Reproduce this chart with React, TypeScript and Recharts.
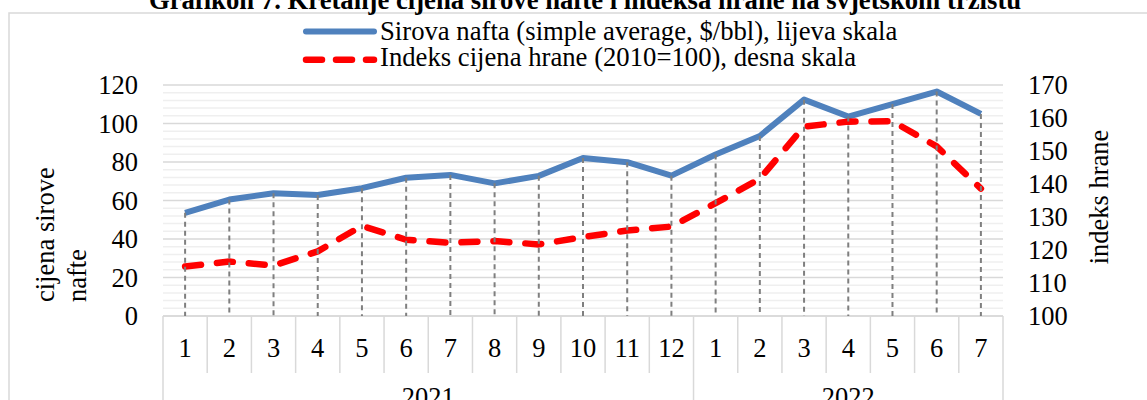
import React from 'react';
import { ComposedChart, Line, XAxis, YAxis, CartesianGrid } from 'recharts';

const months = ['1', '2', '3', '4', '5', '6', '7', '8', '9', '10', '11', '12', '1', '2', '3', '4', '5', '6', '7'];
const years = ['2021', '2021', '2021', '2021', '2021', '2021', '2021', '2021', '2021', '2021', '2021', '2021', '2022', '2022', '2022', '2022', '2022', '2022', '2022'];
const oilPrice = [53.6, 60.5, 63.8, 62.9, 66.4, 71.8, 73.3, 68.9, 72.8, 82.1, 79.9, 72.9, 83.9, 93.5, 112.4, 103.6, 110.1, 116.6, 105.0];
const foodIndex = [115.0, 116.5, 115.3, 119.6, 127.3, 123.1, 122.2, 122.7, 121.7, 123.9, 125.9, 127.1, 134.2, 141.6, 157.4, 158.9, 159.0, 151.4, 138.6];
const leftTicks = [0, 20, 40, 60, 80, 100, 120];
const rightTicks = [100, 110, 120, 130, 140, 150, 160, 170];
const minorGrid = [4, 8, 12, 16, 24, 28, 32, 36, 44, 48, 52, 56, 64, 68, 72, 76, 84, 88, 92, 96, 104, 108, 112, 116];

const titleText = 'Grafikon 7. Kretanje cijena sirove nafte i indeksa hrane na svjetskom tržištu';
const oilName = 'Sirova nafta (simple average, $/bbl), lijeva skala';
const foodName = 'Indeks cijena hrane (2010=100), desna skala';
const leftTitle = ['cijena sirove', 'nafte'];
const rightTitle = 'indeks hrane';

const W = 1147;
const H = 420;
const PLOT_LEFT = 163;
const PLOT_RIGHT = 1003;
const PLOT_TOP = 85;
const PLOT_BOTTOM = 316;
const X_AXIS_H = 80;
const BW = (PLOT_RIGHT - PLOT_LEFT) / months.length;
const FONT = '"Liberation Serif", "Times New Roman", serif';
const FS = 26.5;
const BLUE = '#4F81BD';
const RED = '#FF0000';
const GRID = '#d9d9d9';

const data = months.map((m, i) => ({
  key: `${years[i]}-${m}`,
  oil: oilPrice[i],
  food: foodIndex[i],
}));

const CategoryTick = (props: any) => {
  const { x, y, index } = props;
  const i = index;
  const groupStart = i === 0 || years[i] !== years[i - 1];
  const isLast = i === months.length - 1;
  const left = x - BW / 2;
  let yearLabel = null;
  if (groupStart) {
    const count = years.filter((yy) => yy === years[i]).length;
    yearLabel = (
      <text x={left + (count * BW) / 2} y={y + 90} textAnchor="middle" fontSize={FS} fontFamily={FONT} fill="#000">
        {years[i]}
      </text>
    );
  }
  return (
    <g>
      <line x1={left} x2={left} y1={y} y2={y + (groupStart ? 130 : 57)} stroke={GRID} strokeWidth={1.5} />
      {isLast && <line x1={x + BW / 2} x2={x + BW / 2} y1={y} y2={y + 130} stroke={GRID} strokeWidth={1.5} />}
      <text x={x} y={y + 41} textAnchor="middle" fontSize={FS} fontFamily={FONT} fill="#000">
        {months[i]}
      </text>
      {yearLabel}
    </g>
  );
};

const DropLine = (props: any) => {
  const { cx, cy, index } = props;
  if (cx == null || cy == null) return <g key={`d-${index}`} />;
  return (
    <line
      key={`d-${index}`}
      x1={cx}
      x2={cx}
      y1={cy}
      y2={PLOT_BOTTOM}
      stroke="#7f7f7f"
      strokeWidth={2}
      strokeDasharray="5 4"
    />
  );
};

const tickStyle = { fontSize: FS, fontFamily: FONT, fill: '#000' };

export default function App() {
  return (
    <div style={{ position: 'absolute', left: 0, top: 0, width: W, height: 400, overflow: 'hidden', background: '#fff' }}>
      <svg width={W} height={H} style={{ position: 'absolute', left: 0, top: 0 }}>
        <rect x={9} y={13} width={1160} height={420} fill="#fff" stroke={GRID} strokeWidth={1.5} />
      </svg>
      <div style={{ position: 'absolute', left: 0, top: 0 }}>
        <ComposedChart
          width={W}
          height={H}
          data={data}
          margin={{ top: PLOT_TOP, right: 0, bottom: H - PLOT_BOTTOM - X_AXIS_H, left: 0 }}
        >
          <CartesianGrid yAxisId="left" vertical={false} horizontalValues={minorGrid} stroke="#efefef" strokeWidth={1.5} />
          <CartesianGrid yAxisId="left" vertical={false} stroke={GRID} strokeWidth={1.5} />
          <XAxis
            dataKey="key"
            scale="band"
            interval={0}
            height={X_AXIS_H}
            tickSize={0}
            tickMargin={0}
            tickLine={false}
            axisLine={{ stroke: GRID, strokeWidth: 1.5 }}
            tick={<CategoryTick />}
          />
          <YAxis
            yAxisId="left"
            width={PLOT_LEFT}
            domain={[0, 120]}
            ticks={leftTicks}
            interval={0}
            axisLine={false}
            tickLine={false}
            tickSize={0}
            tickMargin={25}
            tick={tickStyle}
          />
          <YAxis
            yAxisId="right"
            orientation="right"
            width={W - PLOT_RIGHT}
            domain={[100, 170]}
            ticks={rightTicks}
            interval={0}
            axisLine={false}
            tickLine={false}
            tickSize={0}
            tickMargin={25}
            tick={tickStyle}
          />
          <Line
            yAxisId="left"
            dataKey="oil"
            stroke="none"
            dot={DropLine}
            activeDot={false}
            legendType="none"
            isAnimationActive={false}
          />
          <Line
            yAxisId="left"
            dataKey="oil"
            name={oilName}
            stroke={BLUE}
            strokeWidth={6}
            strokeLinejoin="round"
            dot={false}
            activeDot={false}
            isAnimationActive={false}
          />
          <Line
            yAxisId="right"
            dataKey="food"
            name={foodName}
            stroke={RED}
            strokeWidth={6.5}
            strokeDasharray="16 16"
            strokeLinecap="round"
            strokeLinejoin="round"
            dot={false}
            activeDot={false}
            isAnimationActive={false}
          />
        </ComposedChart>
      </div>
      <svg width={W} height={H} style={{ position: 'absolute', left: 0, top: 0, pointerEvents: 'none' }}>
        <text x={585} y={8.5} textAnchor="middle" fontSize={26.7} fontWeight="bold" fontFamily={FONT} fill="#000">
          {titleText}
        </text>
        <line x1={306} x2={374} y1={31.5} y2={31.5} stroke={BLUE} strokeWidth={6} strokeLinecap="round" />
        <text x={380} y={39.5} fontSize={26.7} fontFamily={FONT} fill="#000">{oilName}</text>
        <line x1={306} x2={374} y1={59.7} y2={59.7} stroke={RED} strokeWidth={6.5} strokeDasharray="16 14" strokeLinecap="round" />
        <text x={380} y={65.5} fontSize={26.7} fontFamily={FONT} fill="#000">{foodName}</text>
        <text transform="translate(54,302) rotate(-90)" fontSize={FS} fontFamily={FONT} fill="#000">{leftTitle[0]}</text>
        <text transform="translate(86,302) rotate(-90)" fontSize={FS} fontFamily={FONT} fill="#000">{leftTitle[1]}</text>
        <text transform="translate(1108,197) rotate(-90)" textAnchor="middle" fontSize={FS} fontFamily={FONT} fill="#000">{rightTitle}</text>
      </svg>
    </div>
  );
}
